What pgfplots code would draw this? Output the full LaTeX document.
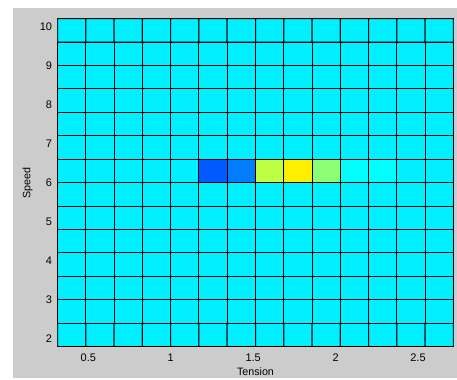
\documentclass[border=0pt]{standalone}
\usepackage{fontspec}
\setmainfont{Liberation Sans}
\usepackage{pgfplots}
\pgfplotsset{compat=1.18}
\definecolor{figgray}{RGB}{204,204,204}

\begin{document}
\begin{tikzpicture}[x=1pt,y=1pt]
% figure background
\fill[white] (0,0) rectangle (457,378);
\fill[figgray] (13.3,0) rectangle (457,369.7);
\begin{axis}[
  at={(57.7pt,31.3pt)}, anchor=south west,
  scale only axis, width=395.6pt, height=328pt,
  xmin=0.3143, xmax=2.7143, ymin=1.8, ymax=10.2,
  xtick={0.5,1,1.5,2,2.5}, ytick={2,3,...,10},
  major tick length=0pt,
  axis line style={black, line width=0.8pt},
  colormap/jet, point meta min=0, point meta max=1,
  tick label style={font=\fontsize{11}{13}\selectfont},
  /pgf/number format/assume math mode=true,
  xticklabel style={anchor=north, inner sep=0pt},
  xticklabel shift=6.7pt,
  yticklabel style={anchor=east, inner sep=0pt},
  yticklabel shift=5.5pt,
  label style={font=\fontsize{10.7}{12}\selectfont},
  xlabel={Tension}, ylabel={Speed},
  xlabel style={at={(axis description cs:0.5,-0.0765)}, anchor=center},
  ylabel style={at={(axis description cs:-0.0758,0.5)}, anchor=center},
]
\addplot[matrix plot*, mesh/cols=14, point meta=explicit, draw=black, line width=1pt]
coordinates {
(0.4000,2.1)[0.360] (0.5714,2.1)[0.360] (0.7429,2.1)[0.360] (0.9143,2.1)[0.360] (1.0857,2.1)[0.360] (1.2571,2.1)[0.360] (1.4286,2.1)[0.360] (1.6000,2.1)[0.360] (1.7714,2.1)[0.360] (1.9429,2.1)[0.360] (2.1143,2.1)[0.360] (2.2857,2.1)[0.360] (2.4571,2.1)[0.360] (2.6286,2.1)[0.360]
(0.4000,2.7)[0.360] (0.5714,2.7)[0.360] (0.7429,2.7)[0.360] (0.9143,2.7)[0.360] (1.0857,2.7)[0.360] (1.2571,2.7)[0.360] (1.4286,2.7)[0.360] (1.6000,2.7)[0.360] (1.7714,2.7)[0.360] (1.9429,2.7)[0.360] (2.1143,2.7)[0.360] (2.2857,2.7)[0.360] (2.4571,2.7)[0.360] (2.6286,2.7)[0.360]
(0.4000,3.3)[0.360] (0.5714,3.3)[0.360] (0.7429,3.3)[0.360] (0.9143,3.3)[0.360] (1.0857,3.3)[0.360] (1.2571,3.3)[0.360] (1.4286,3.3)[0.360] (1.6000,3.3)[0.360] (1.7714,3.3)[0.360] (1.9429,3.3)[0.360] (2.1143,3.3)[0.360] (2.2857,3.3)[0.360] (2.4571,3.3)[0.360] (2.6286,3.3)[0.360]
(0.4000,3.9)[0.360] (0.5714,3.9)[0.360] (0.7429,3.9)[0.360] (0.9143,3.9)[0.360] (1.0857,3.9)[0.360] (1.2571,3.9)[0.360] (1.4286,3.9)[0.360] (1.6000,3.9)[0.360] (1.7714,3.9)[0.360] (1.9429,3.9)[0.360] (2.1143,3.9)[0.360] (2.2857,3.9)[0.360] (2.4571,3.9)[0.360] (2.6286,3.9)[0.360]
(0.4000,4.5)[0.360] (0.5714,4.5)[0.360] (0.7429,4.5)[0.360] (0.9143,4.5)[0.360] (1.0857,4.5)[0.360] (1.2571,4.5)[0.360] (1.4286,4.5)[0.360] (1.6000,4.5)[0.360] (1.7714,4.5)[0.360] (1.9429,4.5)[0.360] (2.1143,4.5)[0.360] (2.2857,4.5)[0.360] (2.4571,4.5)[0.360] (2.6286,4.5)[0.360]
(0.4000,5.1)[0.360] (0.5714,5.1)[0.360] (0.7429,5.1)[0.360] (0.9143,5.1)[0.360] (1.0857,5.1)[0.360] (1.2571,5.1)[0.360] (1.4286,5.1)[0.360] (1.6000,5.1)[0.360] (1.7714,5.1)[0.360] (1.9429,5.1)[0.360] (2.1143,5.1)[0.360] (2.2857,5.1)[0.360] (2.4571,5.1)[0.360] (2.6286,5.1)[0.360]
(0.4000,5.7)[0.360] (0.5714,5.7)[0.360] (0.7429,5.7)[0.360] (0.9143,5.7)[0.360] (1.0857,5.7)[0.360] (1.2571,5.7)[0.360] (1.4286,5.7)[0.360] (1.6000,5.7)[0.360] (1.7714,5.7)[0.360] (1.9429,5.7)[0.360] (2.1143,5.7)[0.360] (2.2857,5.7)[0.360] (2.4571,5.7)[0.360] (2.6286,5.7)[0.360]
(0.4000,6.3)[0.360] (0.5714,6.3)[0.360] (0.7429,6.3)[0.360] (0.9143,6.3)[0.360] (1.0857,6.3)[0.360] (1.2571,6.3)[0.213] (1.4286,6.3)[0.248] (1.6000,6.3)[0.561] (1.7714,6.3)[0.642] (1.9429,6.3)[0.512] (2.1143,6.3)[0.377] (2.2857,6.3)[0.375] (2.4571,6.3)[0.360] (2.6286,6.3)[0.360]
(0.4000,6.9)[0.360] (0.5714,6.9)[0.360] (0.7429,6.9)[0.360] (0.9143,6.9)[0.360] (1.0857,6.9)[0.360] (1.2571,6.9)[0.360] (1.4286,6.9)[0.360] (1.6000,6.9)[0.360] (1.7714,6.9)[0.360] (1.9429,6.9)[0.360] (2.1143,6.9)[0.360] (2.2857,6.9)[0.360] (2.4571,6.9)[0.360] (2.6286,6.9)[0.360]
(0.4000,7.5)[0.360] (0.5714,7.5)[0.360] (0.7429,7.5)[0.360] (0.9143,7.5)[0.360] (1.0857,7.5)[0.360] (1.2571,7.5)[0.360] (1.4286,7.5)[0.360] (1.6000,7.5)[0.360] (1.7714,7.5)[0.360] (1.9429,7.5)[0.360] (2.1143,7.5)[0.360] (2.2857,7.5)[0.360] (2.4571,7.5)[0.360] (2.6286,7.5)[0.360]
(0.4000,8.1)[0.360] (0.5714,8.1)[0.360] (0.7429,8.1)[0.360] (0.9143,8.1)[0.360] (1.0857,8.1)[0.360] (1.2571,8.1)[0.360] (1.4286,8.1)[0.360] (1.6000,8.1)[0.360] (1.7714,8.1)[0.360] (1.9429,8.1)[0.360] (2.1143,8.1)[0.360] (2.2857,8.1)[0.360] (2.4571,8.1)[0.360] (2.6286,8.1)[0.360]
(0.4000,8.7)[0.360] (0.5714,8.7)[0.360] (0.7429,8.7)[0.360] (0.9143,8.7)[0.360] (1.0857,8.7)[0.360] (1.2571,8.7)[0.360] (1.4286,8.7)[0.360] (1.6000,8.7)[0.360] (1.7714,8.7)[0.360] (1.9429,8.7)[0.360] (2.1143,8.7)[0.360] (2.2857,8.7)[0.360] (2.4571,8.7)[0.360] (2.6286,8.7)[0.360]
(0.4000,9.3)[0.360] (0.5714,9.3)[0.360] (0.7429,9.3)[0.360] (0.9143,9.3)[0.360] (1.0857,9.3)[0.360] (1.2571,9.3)[0.360] (1.4286,9.3)[0.360] (1.6000,9.3)[0.360] (1.7714,9.3)[0.360] (1.9429,9.3)[0.360] (2.1143,9.3)[0.360] (2.2857,9.3)[0.360] (2.4571,9.3)[0.360] (2.6286,9.3)[0.360]
(0.4000,9.9)[0.360] (0.5714,9.9)[0.360] (0.7429,9.9)[0.360] (0.9143,9.9)[0.360] (1.0857,9.9)[0.360] (1.2571,9.9)[0.360] (1.4286,9.9)[0.360] (1.6000,9.9)[0.360] (1.7714,9.9)[0.360] (1.9429,9.9)[0.360] (2.1143,9.9)[0.360] (2.2857,9.9)[0.360] (2.4571,9.9)[0.360] (2.6286,9.9)[0.360]
};
\end{axis}
\end{tikzpicture}
\end{document}
